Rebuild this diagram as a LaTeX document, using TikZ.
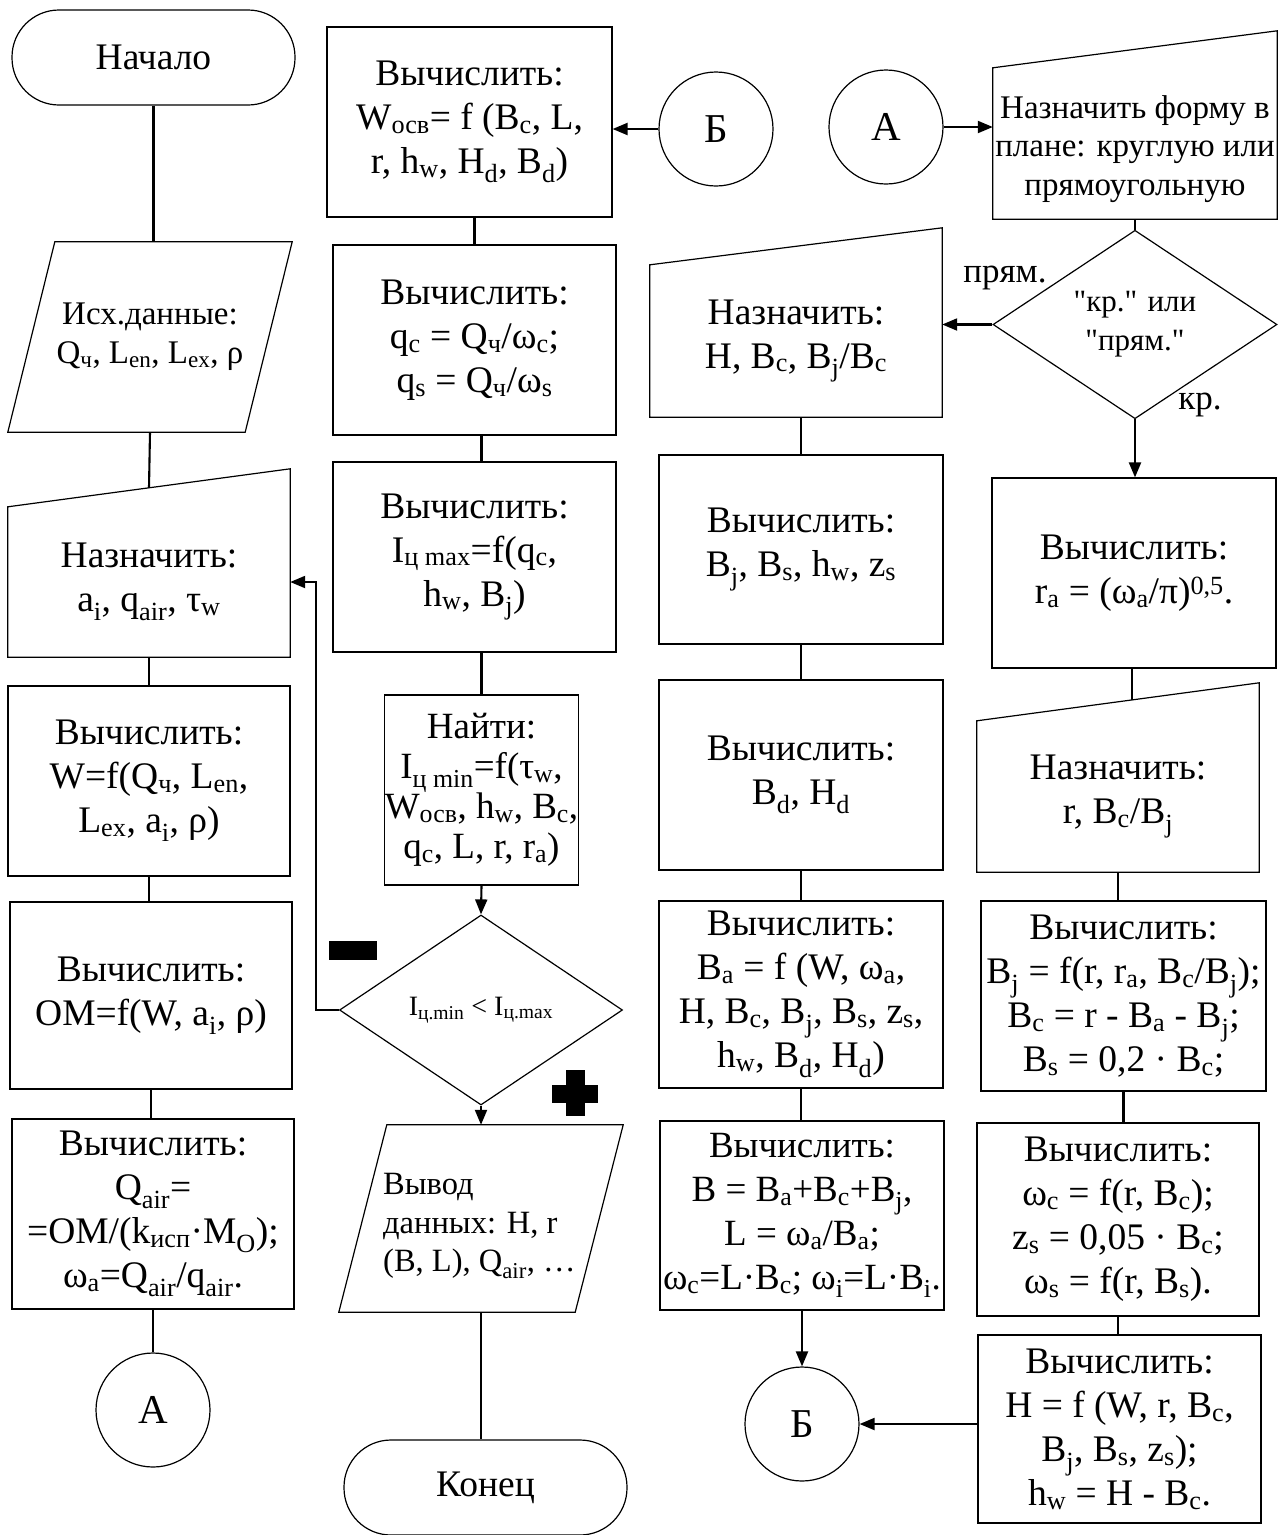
\documentclass[tikz,border=0pt]{standalone}
\usepackage{fontspec}
\setmainfont{Liberation Serif}
\usetikzlibrary{shapes.geometric,arrows.meta,calc}
\newcommand{\sbs}[1]{\textsubscript{#1}}
\newcommand{\sps}[1]{\textsuperscript{#1}}
\newcommand{\qd}{\textquotedbl}
\begin{document}
\begin{tikzpicture}[x=1pt,y=-1pt,
  shp/.style={draw, line width=1.2pt},
  box/.style={shp, rectangle, inner sep=0pt, align=center, font=\fontsize{37.5}{44}\selectfont},
  term/.style={box, rounded corners=47pt},
  con/.style={shp, circle, inner sep=0pt, minimum size=114pt, font=\fontsize{41}{44}\selectfont},
  ghost/.style={rectangle, inner sep=0pt, align=center, font=\fontsize{37.5}{44}\selectfont},
  dia/.style={shp, diamond, inner sep=0pt, align=center},
  conn/.style={line width=2.1pt},
  arr/.style={conn, -{Triangle[length=15pt,width=12pt]}},
  lbl/.style={inner sep=0pt, font=\fontsize{35}{40}\selectfont},
  blk/.style={fill=black, inner sep=0pt}
]
\useasboundingbox (0,0) rectangle (1279,1535);

% ---------- column 1 ----------
\node[term, minimum width=283pt, minimum height=95pt] (start) at (153.5,57.5) {Начало};
\node[ghost, minimum width=284pt, minimum height=190pt, font=\fontsize{33}{39}\selectfont] (ish) at (150,337) {Исх.данные:\\Q\sbs{ч}, L\sbs{en}, L\sbs{ex}, ρ};
\draw[shp] ([xshift=47pt]ish.north west) -- (ish.north east) -- ([xshift=-47pt]ish.south east) -- (ish.south west) -- cycle;
\node[ghost, minimum width=282pt, minimum height=150pt] (nazn1) at (149,582) {Назначить:\\a\sbs{i}, q\sbs{air}, τ\sbs{w}};
\draw[shp] (nazn1.south west) -- (nazn1.south east) -- ([yshift=38pt]nazn1.north east) -- (nazn1.north west) -- cycle;
\coordinate (nazn1in) at ($(nazn1.north west)!0.5!([yshift=38pt]nazn1.north east)$);
\node[box, minimum width=282pt, minimum height=190pt] (calcW) at (149,781) {Вычислить:\\W=f(Q\sbs{ч}, L\sbs{en},\\L\sbs{ex}, a\sbs{i}, ρ)};
\node[box, minimum width=282pt, minimum height=187pt] (calcOM) at (151,995.5) {Вычислить:\\OM=f(W, a\sbs{i}, ρ)};
\node[box, minimum width=282pt, minimum height=190pt] (calcQ) at (153,1214) {Вычислить:\\Q\sbs{air}=\\=OM/(k\sbs{исп}·M\sbs{O});\\ω\sbs{a}=Q\sbs{air}/q\sbs{air}.};
\node[con] (conA) at (153,1410) {А};

\draw[conn] (start.south) -- (start.south |- ish.north);
\draw[conn] (ish.south) -- (nazn1in);
\draw[conn] (nazn1.south) -- (nazn1.south |- calcW.north);
\draw[conn] (calcW.south) -- (calcW.south |- calcOM.north);
\draw[conn] (calcOM.south) -- (calcOM.south |- calcQ.north);
\draw[conn] (calcQ.south) -- (conA.north);

% ---------- column 2 ----------
\node[box, minimum width=285pt, minimum height=190pt] (calcWosv) at (469.5,122) {Вычислить:\\W\sbs{осв}= f (B\sbs{c}, L,\\r, h\sbs{w}, H\sbs{d}, B\sbs{d})};
\node[con] (conB1) at (716,129) {Б};
\node[box, minimum width=283pt, minimum height=190pt] (calcq) at (474.5,340) {Вычислить:\\q\sbs{c} = Q\sbs{ч}/ω\sbs{c};\\q\sbs{s} = Q\sbs{ч}/ω\sbs{s}};
\node[box, minimum width=283pt, minimum height=190pt] (calcImax) at (474.5,557) {Вычислить:\\I\sbs{ц max}=f(q\sbs{c},\\h\sbs{w}, B\sbs{j})};
\node[box, minimum width=191pt, minimum height=190pt, font=\fontsize{37}{40}\selectfont] (find) at (481.5,790) {Найти:\\I\sbs{ц min}=f(τ\sbs{w},\\W\sbs{осв}, h\sbs{w}, B\sbs{c},\\q\sbs{c}, L, r, r\sbs{a})};
\node[dia, minimum width=283pt, minimum height=190pt, font=\fontsize{28}{32}\selectfont] (dec2) at (481,1010) {I\sbs{ц.min} < I\sbs{ц.max}};
\node[ghost, minimum width=284pt, minimum height=187pt] (out) at (481,1218.5) {};
\draw[shp] ([xshift=48pt]out.north west) -- (out.north east) -- ([xshift=-48pt]out.south east) -- (out.south west) -- cycle;
\node[anchor=west, align=left, inner sep=0pt, font=\fontsize{32.5}{38.5}\selectfont] (outtext) at (383,1226) {Вывод\\данных: H, r\\(B, L), Q\sbs{air}, …};
\node[term, minimum width=283pt, minimum height=95pt] (stop) at (485.5,1487.5) {Конец};
\node[blk, minimum width=48pt, minimum height=19pt] (minus) at (353,950.5) {};
\node[blk, minimum width=19pt, minimum height=46pt] (plusv) at (575.5,1093) {};
\node[blk, minimum width=46pt, minimum height=18pt] (plush) at (575,1094) {};
\coordinate (loopx) at (316,0);

\draw[arr] (conB1.west) -- (conB1.west -| calcWosv.east);
\draw[conn] (calcq.north |- calcWosv.south) -- (calcq.north);
\draw[conn] (find.north |- calcq.south) -- (find.north |- calcImax.north);
\draw[conn] (find.north |- calcImax.south) -- (find.north);
\draw[arr] (find.south) -- (dec2.north);
\draw[arr] (dec2.south) -- (dec2.south |- out.north);
\draw[conn] (out.south) -- (out.south |- stop.north);
\draw[arr] (dec2.west) -- (dec2.west -| loopx) |- (nazn1.east);

% ---------- column 3 ----------
\node[ghost, minimum width=292pt, minimum height=152pt] (nazn2) at (796,341) {Назначить:\\H, B\sbs{c}, B\sbs{j}/B\sbs{c}};
\draw[shp] (nazn2.south west) -- (nazn2.south east) -- ([yshift=37pt]nazn2.north east) -- (nazn2.north west) -- cycle;
\node[box, minimum width=284pt, minimum height=189pt] (calcBj) at (801,549.5) {Вычислить:\\B\sbs{j}, B\sbs{s}, h\sbs{w}, z\sbs{s}};
\node[box, minimum width=284pt, minimum height=190pt] (calcBd) at (801,775) {Вычислить:\\B\sbs{d}, H\sbs{d}};
\node[box, minimum width=284pt, minimum height=187pt] (calcBa) at (801,994.5) {Вычислить:\\B\sbs{a} = f (W, ω\sbs{a},\\H, B\sbs{c}, B\sbs{j}, B\sbs{s}, z\sbs{s},\\h\sbs{w}, B\sbs{d}, H\sbs{d})};
\node[box, minimum width=284pt, minimum height=189pt, font=\fontsize{37}{44}\selectfont] (calcB) at (802,1215.5) {Вычислить:\\B = B\sbs{a}+B\sbs{c}+B\sbs{j},\\L = ω\sbs{a}/B\sbs{a};\\ω\sbs{c}=L·B\sbs{c}; ω\sbs{i}=L·B\sbs{i}.};
\node[con] (conB2) at (802,1424) {Б};

\draw[conn] (calcBj.north |- nazn2.south) -- (calcBj.north);
\draw[conn] (calcBj.south) -- (calcBd.north);
\draw[conn] (calcBd.south) -- (calcBa.north);
\draw[conn] (calcBa.south) -- (calcBa.south |- calcB.north);
\draw[arr] (calcB.south) -- (calcB.south |- conB2.north);

% ---------- column 4 ----------
\node[con] (conA2) at (886,127) {А};
\node[ghost, minimum width=284pt, minimum height=151pt] (naznF) at (1135,143.5) {};
\draw[shp] (naznF.south west) -- (naznF.south east) -- ([yshift=37pt]naznF.north east) -- (naznF.north west) -- cycle;
\node[inner sep=0pt, align=center, font=\fontsize{33}{38.5}\selectfont] (naznFt) at (1135,149) {Назначить форму в\\плане: круглую или\\прямоугольную};
\node[dia, minimum width=284pt, minimum height=185pt, font=\fontsize{31}{39}\selectfont] (dec1) at (1135,324.5) {\qd кр.\qd{} или\\\qd прям.\qd};
\node[box, minimum width=284pt, minimum height=190pt] (calcRa) at (1134,573) {Вычислить:\\r\sbs{a} = (ω\sbs{a}/π)\sps{0,5}.};
\node[ghost, minimum width=282pt, minimum height=151pt] (nazn3) at (1118,796.5) {Назначить:\\r, B\sbs{c}/B\sbs{j}};
\draw[shp] (nazn3.south west) -- (nazn3.south east) -- ([yshift=38pt]nazn3.north east) -- (nazn3.north west) -- cycle;
\coordinate (nazn3in) at ($(nazn3.north west)!0.55!([yshift=38pt]nazn3.north east)$);
\node[box, minimum width=285pt, minimum height=190pt] (calcBj2) at (1123.5,996) {Вычислить:\\B\sbs{j} = f(r, r\sbs{a}, B\sbs{c}/B\sbs{j});\\B\sbs{c} = r - B\sbs{a} - B\sbs{j};\\B\sbs{s} = 0,2 · B\sbs{c};};
\node[box, minimum width=282pt, minimum height=193pt] (calcOmega) at (1118,1219.5) {Вычислить:\\ω\sbs{c} = f(r, B\sbs{c});\\z\sbs{s} = 0,05 · B\sbs{c};\\ω\sbs{s} = f(r, B\sbs{s}).};
\node[box, minimum width=283pt, minimum height=188pt] (calcH) at (1119.5,1429) {Вычислить:\\H = f (W, r, B\sbs{c},\\B\sbs{j}, B\sbs{s}, z\sbs{s});\\h\sbs{w} = H - B\sbs{c}.};
\node[lbl] (lprym) at (1005,278) {прям.};
\node[lbl] (lkr) at (1200,405) {кр.};

\draw[arr] (conA2.east) -- (conA2.east -| naznF.west);
\draw[conn] (naznF.south) -- (dec1.north);
\draw[arr] (dec1.west) -- (dec1.west -| nazn2.east);
\draw[arr] (dec1.south) -- (dec1.south |- calcRa.north);
\draw[conn] (nazn3in |- calcRa.south) -- (nazn3in);
\draw[conn] (nazn3.south) -- (nazn3.south |- calcBj2.north);
\draw[conn] (calcBj2.south) -- (calcBj2.south |- calcOmega.north);
\draw[conn] (calcOmega.south) -- (calcOmega.south |- calcH.north);
\draw[arr] (calcH.west |- conB2.east) -- (conB2.east);
\end{tikzpicture}
\end{document}
